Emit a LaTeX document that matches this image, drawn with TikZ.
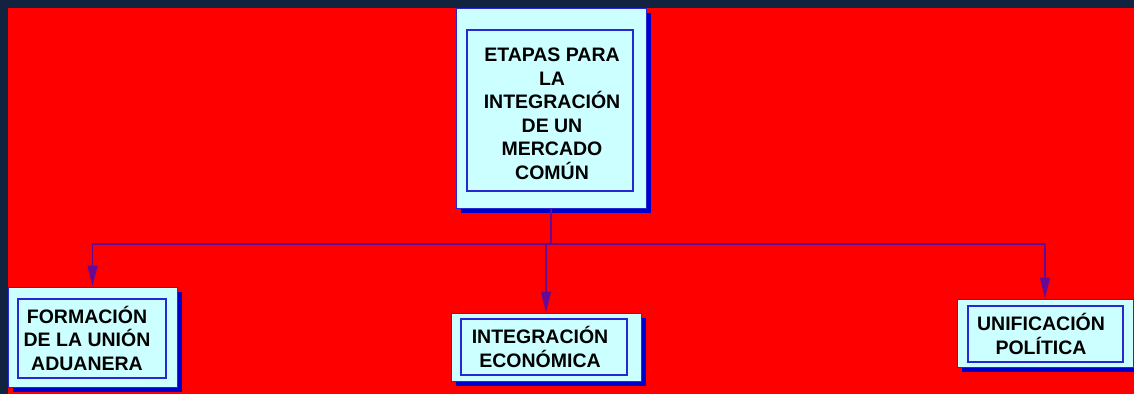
\documentclass[tikz,border=0pt]{standalone}
\usepackage{fontspec}
\setmainfont{Liberation Sans}
\usetikzlibrary{arrows.meta,shadows}
\definecolor{navy}{RGB}{18,35,63}
\definecolor{bgred}{RGB}{255,0,0}
\definecolor{boxfill}{RGB}{204,255,255}
\definecolor{boxline}{RGB}{40,40,210}
\definecolor{shadowblue}{RGB}{0,0,204}
\definecolor{conn}{RGB}{102,10,150}
\tikzset{
  outerbox/.style={draw=boxline, line width=1pt, fill=boxfill, rectangle, inner sep=0pt,
    drop shadow={shadow xshift=5pt, shadow yshift=-5pt, fill=shadowblue, opacity=1}},
  innerbox/.style={draw=boxline, line width=1.4pt, rectangle, inner sep=0pt},
  label/.style={align=center, inner sep=0pt, font=\bfseries\fontsize{19.5}{23.5}\selectfont},
  conline/.style={draw=conn, line width=1.7pt},
  conarrow/.style={conline, -{Triangle[length=21pt,width=10pt]}}
}
\begin{document}
\begin{tikzpicture}[x=1pt,y=-1pt]
\useasboundingbox (0,0) rectangle (1134,394);
\fill[navy] (0,0) rectangle (1134,394);
\fill[bgred] (8,8) rectangle (1134,394);

% outer boxes
\node[outerbox, minimum width=190pt, minimum height=200pt] (top) at (551,108) {};
\node[outerbox, minimum width=169pt, minimum height=100pt] (b1) at (92.5,337) {};
\node[outerbox, minimum width=190pt, minimum height=68pt] (b2) at (546,347) {};
\node[outerbox, minimum width=176pt, minimum height=68pt] (b3) at (1045,333) {};

% inner boxes
\node[innerbox, minimum width=166pt, minimum height=161pt] (topin) at (550,110.5) {};
\node[innerbox, minimum width=148pt, minimum height=79pt] (b1in) at (92,338.5) {};
\node[innerbox, minimum width=166pt, minimum height=56pt] (b2in) at (544,347) {};
\node[innerbox, minimum width=155pt, minimum height=56pt] (b3in) at (1045.5,334) {};

% texts
\node[label] (toptxt) at (552,114) {ETAPAS PARA\\LA\\INTEGRACIÓN\\DE UN\\MERCADO\\COMÚN};
\node[label] (b1txt) at (87,338) {FORMACIÓN\\DE LA UNIÓN\\ADUANERA};
\node[label] (b2txt) at (540,347) {INTEGRACIÓN\\ECONÓMICA};
\node[label] (b3txt) at (1041,334) {UNIFICACIÓN\\POLÍTICA};

% connectors
\coordinate (hub) at (top.south |- 0,244);
\coordinate (busL) at (b1.north |- 0,244);
\coordinate (busM) at (b2.north |- 0,244);
\coordinate (busR) at (b3.north |- 0,244);
\draw[conline] (top.south) -- (hub);
\draw[conline] (busL) -- (busR);
\draw[conarrow] (busL) -- (b1.north);
\draw[conarrow] (busM) -- (b2.north);
\draw[conarrow] (busR) -- (b3.north);
\end{tikzpicture}
\end{document}
